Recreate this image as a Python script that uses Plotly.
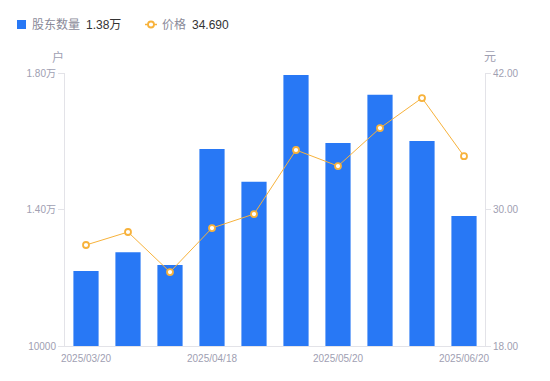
import plotly.graph_objects as go

dates = ["2025/03/20", "2025/03/31", "2025/04/10", "2025/04/18", "2025/04/30",
         "2025/05/09", "2025/05/20", "2025/05/30", "2025/06/10", "2025/06/20"]
holders = [12200, 12750, 12370, 15770, 14810, 17940, 15950, 17360, 16010, 13810]
prices = [26.88, 28.02, 24.50, 28.37, 29.60, 35.23, 33.82, 37.16, 39.80, 34.69]

x_tick_labels = ["2025/03/20", "2025/04/18", "2025/05/20", "2025/06/20"]
left_ticks = [10000, 14000, 18000]
left_tick_text = ["10000", "1.40万", "1.80万"]
right_ticks = [18, 30, 42]
right_tick_text = ["18.00", "30.00", "42.00"]

BLUE = "#2878f5"
ORANGE = "#f7b23b"
GREY = "#a0a0b2"
LEGGREY = "#8a8a99"
DARK = "#333333"
AXIS = "#e3e3e8"
FONT = "Liberation Sans, Noto Sans CJK SC, sans-serif"

W, H = 550, 381
OFF = 8  # page body margin
L, R, T, B = 57, 73, 65, 43
PW, PH = W - L - R, H - T - B


def px(x):
    return (x - OFF - L) / PW


def py(y):
    return (H - B - (y - OFF)) / PH


fig = go.Figure()
fig.add_trace(go.Bar(
    x=dates, y=holders, name="股东数量",
    marker=dict(color=BLUE, line=dict(width=0)), width=0.6, yaxis="y",
))
fig.add_trace(go.Scatter(
    x=dates, y=prices, name="价格",
    mode="lines+markers", yaxis="y2",
    line=dict(color=ORANGE, width=1),
    marker=dict(symbol="circle", size=6, color="white", line=dict(color=ORANGE, width=1.8)),
))

annotations = [
    dict(text="户", x=px(58), y=py(57), xanchor="center", yanchor="middle",
         font=dict(size=12, color=GREY)),
    dict(text="元", x=px(490), y=py(57), xanchor="center", yanchor="middle",
         font=dict(size=12, color=GREY)),
    dict(text="股东数量", x=px(30), y=py(25), xanchor="left", yanchor="middle",
         font=dict(size=12, color=LEGGREY)),
    dict(text="1.38万", x=px(84), y=py(25), xanchor="left", yanchor="middle",
         font=dict(size=12, color=DARK)),
    dict(text="价格", x=px(160), y=py(25), xanchor="left", yanchor="middle",
         font=dict(size=12, color=LEGGREY)),
    dict(text="34.690", x=px(190), y=py(25), xanchor="left", yanchor="middle",
         font=dict(size=12, color=DARK)),
]
for a in annotations:
    a.update(xref="paper", yref="paper", showarrow=False)

shapes = [
    dict(type="rect", x0=px(17), x1=px(26), y0=py(29), y1=py(20),
         fillcolor=BLUE, line=dict(width=0)),
    dict(type="line", x0=px(145), x1=px(157), y0=py(24.5), y1=py(24.5),
         line=dict(color=ORANGE, width=1.5)),
    dict(type="circle", x0=px(148), x1=px(154), y0=py(27.5), y1=py(21.5),
         fillcolor="white", line=dict(color=ORANGE, width=1.8)),
]
for s in shapes:
    s.update(xref="paper", yref="paper", layer="above")

fig.update_layout(
    width=W, height=H,
    margin=dict(l=L, r=R, t=T, b=B),
    paper_bgcolor="white", plot_bgcolor="white",
    font=dict(family=FONT, size=10, color=GREY),
    showlegend=False,
    xaxis=dict(type="category", range=[-0.5, 9.5], showgrid=False,
               showline=True, linecolor=AXIS, linewidth=1,
               tickmode="array", tickvals=x_tick_labels, ticktext=x_tick_labels,
               ticks="", ticklabelstandoff=3, tickfont=dict(size=10, color=GREY)),
    yaxis=dict(range=[10000, 18000], showgrid=False, zeroline=False,
               showline=True, linecolor=AXIS, linewidth=1,
               tickmode="array", tickvals=left_ticks, ticktext=left_tick_text,
               ticks="outside", ticklen=6, tickcolor=AXIS,
               tickfont=dict(size=10, color=GREY)),
    yaxis2=dict(range=[18, 42], overlaying="y", side="right", showgrid=False,
                zeroline=False, showline=True, linecolor=AXIS, linewidth=1,
                tickmode="array", tickvals=right_ticks, ticktext=right_tick_text,
                ticks="outside", ticklen=5, tickcolor=AXIS,
                tickfont=dict(size=10, color=GREY)),
    annotations=annotations,
    shapes=shapes,
)

fig.write_html("out.html")
